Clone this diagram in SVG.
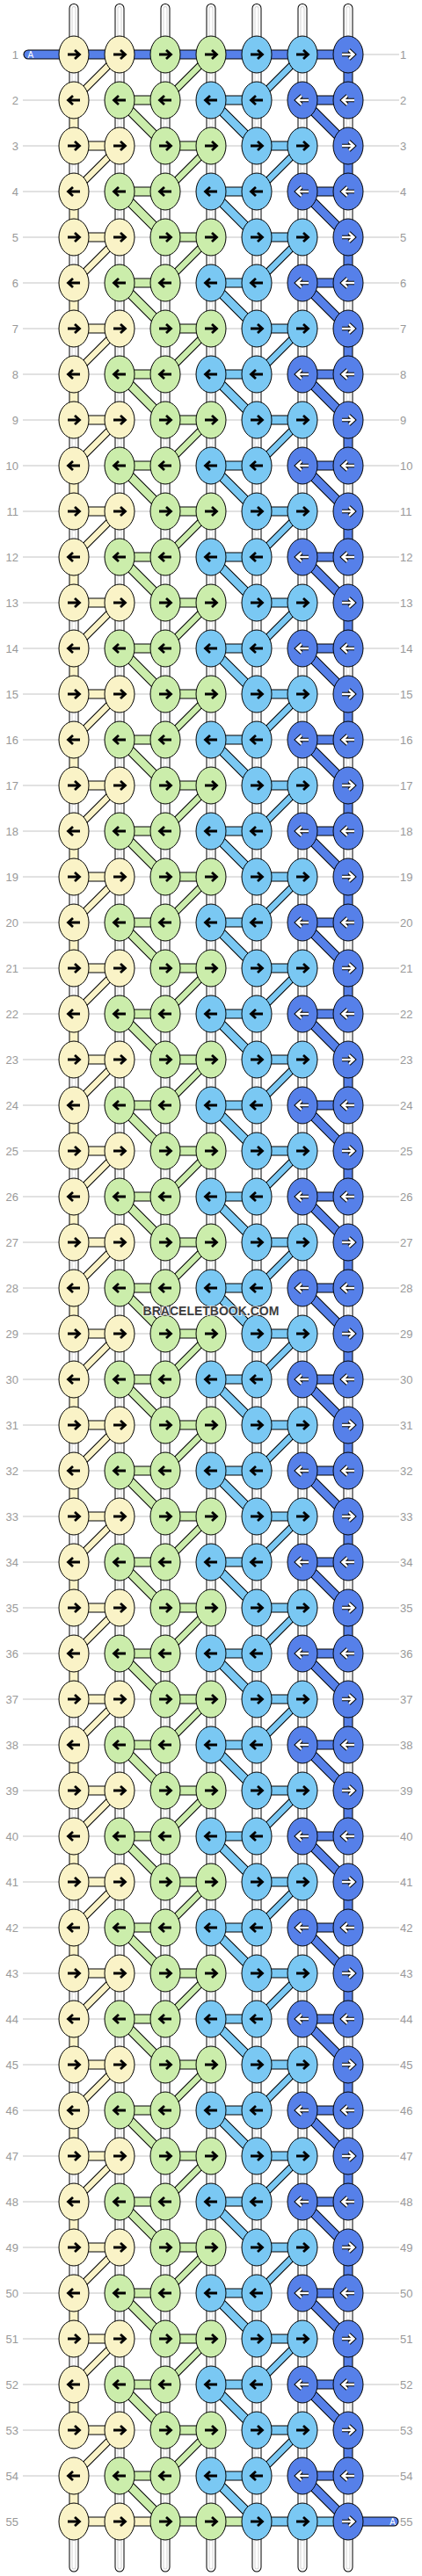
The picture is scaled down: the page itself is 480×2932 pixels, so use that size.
<svg xmlns="http://www.w3.org/2000/svg" width="480" height="2932" viewBox="0 0 480 2932">
<style>
.rl{fill:none;stroke:#c4c4c4;stroke-width:1}
.L,.R{font-family:"Liberation Sans",Arial,sans-serif;font-size:13px;fill:#999}
.L{text-anchor:end}
.k{stroke:#000;stroke-width:1}
.ab{fill:none;stroke:#000;stroke-width:2.8}
.ao{fill:none;stroke:#000;stroke-width:4.4}
.ai{fill:none;stroke:#fff;stroke-width:2.4}
.o{stroke:#000;stroke-width:11}
.on{stroke:#000;stroke-width:8.5}
.a{font-family:"Liberation Sans",Arial,sans-serif;font-size:10px;fill:#fff}
</style>
<defs>
<path id="aR" d="M-7,0H5.5M1,-5L6.5,0L1,5"/>
<path id="aL" d="M7,0H-5.5M-1,-5L-6.5,0L-1,5"/>
<g id="yR"><ellipse class="k" fill="#FAF3C7" rx="17" ry="21"/><use href="#aR" class="ab"/></g>
<g id="yL"><ellipse class="k" fill="#FAF3C7" rx="17" ry="21"/><use href="#aL" class="ab"/></g>
<g id="gR"><ellipse class="k" fill="#CBEDAB" rx="17" ry="21"/><use href="#aR" class="ab"/></g>
<g id="gL"><ellipse class="k" fill="#CBEDAB" rx="17" ry="21"/><use href="#aL" class="ab"/></g>
<g id="lR"><ellipse class="k" fill="#7AC8F3" rx="17" ry="21"/><use href="#aR" class="ab"/></g>
<g id="lL"><ellipse class="k" fill="#7AC8F3" rx="17" ry="21"/><use href="#aL" class="ab"/></g>
<g id="dR"><ellipse class="k" fill="#5680E9" rx="17" ry="21"/><use href="#aR" class="ao"/><use href="#aR" class="ai"/></g>
<g id="dL"><ellipse class="k" fill="#5680E9" rx="17" ry="21"/><use href="#aL" class="ao"/><use href="#aL" class="ai"/></g>
<path id="pW" d="M136,9.5V2922M188,9.5V2922M240,9.5V2922M292,9.5V2922M344,9.5V2922
M84,9.5V114 m0,52v52 m0,52v52 m0,52v52 m0,52v52 m0,52v52 m0,52v52 m0,52v52 m0,52v52 m0,52v52 m0,52v52 m0,52v52 m0,52v52 m0,52v52
m0,52v52 m0,52v52 m0,52v52 m0,52v52 m0,52v52 m0,52v52 m0,52v52 m0,52v52 m0,52v52 m0,52v52 m0,52v52 m0,52v52 M84,2870V2922
M396,9.5V62 m0,52v52 m0,52v52 m0,52v52 m0,52v52 m0,52v52 m0,52v52 m0,52v52 m0,52v52 m0,52v52 m0,52v52 m0,52v52 m0,52v52 m0,52v52 m0,52v52
m0,52v52 m0,52v52 m0,52v52 m0,52v52 m0,52v52 m0,52v52 m0,52v52 m0,52v52 m0,52v52 m0,52v52 m0,52v52 m0,52v52 m0,52v52 v52"/>
<path id="pY" d="M84,114V166
h52m-52,52v52 h52m-52,52v52 h52m-52,52v52 h52m-52,52v52 h52m-52,52v52 h52m-52,52v52 h52m-52,52v52 h52m-52,52v52 h52m-52,52v52 h52m-52,52v52 h52m-52,52v52 h52m-52,52v52 h52m-52,52v52
h52m-52,52v52 h52m-52,52v52 h52m-52,52v52 h52m-52,52v52 h52m-52,52v52 h52m-52,52v52 h52m-52,52v52 h52m-52,52v52 h52m-52,52v52 h52m-52,52v52 h52m-52,52v52 h52m-52,52v52 h52m-52,52v52
h104"/>
<path id="dY" d="M136,62l-52,52
m52,52l-52,52 m52,52l-52,52 m52,52l-52,52 m52,52l-52,52 m52,52l-52,52 m52,52l-52,52 m52,52l-52,52 m52,52l-52,52 m52,52l-52,52 m52,52l-52,52 m52,52l-52,52 m52,52l-52,52 m52,52l-52,52
m52,52l-52,52 m52,52l-52,52 m52,52l-52,52 m52,52l-52,52 m52,52l-52,52 m52,52l-52,52 m52,52l-52,52 m52,52l-52,52 m52,52l-52,52 m52,52l-52,52 m52,52l-52,52 m52,52l-52,52 m52,52l-52,52"/>
<path id="pG" d="M188,114h-52l52,52h52
m-52,52h-52l52,52h52 m-52,52h-52l52,52h52 m-52,52h-52l52,52h52 m-52,52h-52l52,52h52 m-52,52h-52l52,52h52 m-52,52h-52l52,52h52 m-52,52h-52l52,52h52 m-52,52h-52l52,52h52 m-52,52h-52l52,52h52 m-52,52h-52l52,52h52 m-52,52h-52l52,52h52 m-52,52h-52l52,52h52 m-52,52h-52l52,52h52
m-52,52h-52l52,52h52 m-52,52h-52l52,52h52 m-52,52h-52l52,52h52 m-52,52h-52l52,52h52 m-52,52h-52l52,52h52 m-52,52h-52l52,52h52 m-52,52h-52l52,52h52 m-52,52h-52l52,52h52 m-52,52h-52l52,52h52 m-52,52h-52l52,52h52 m-52,52h-52l52,52h52 m-52,52h-52l52,52h52 m-52,52h-52l52,52h52
h52"/>
<path id="dG" d="M240,62l-52,52
m52,52l-52,52 m52,52l-52,52 m52,52l-52,52 m52,52l-52,52 m52,52l-52,52 m52,52l-52,52 m52,52l-52,52 m52,52l-52,52 m52,52l-52,52 m52,52l-52,52 m52,52l-52,52 m52,52l-52,52 m52,52l-52,52
m52,52l-52,52 m52,52l-52,52 m52,52l-52,52 m52,52l-52,52 m52,52l-52,52 m52,52l-52,52 m52,52l-52,52 m52,52l-52,52 m52,52l-52,52 m52,52l-52,52 m52,52l-52,52 m52,52l-52,52 m52,52l-52,52"/>
<path id="pL" d="M292,114h-52l52,52h52
m-52,52h-52l52,52h52 m-52,52h-52l52,52h52 m-52,52h-52l52,52h52 m-52,52h-52l52,52h52 m-52,52h-52l52,52h52 m-52,52h-52l52,52h52 m-52,52h-52l52,52h52 m-52,52h-52l52,52h52 m-52,52h-52l52,52h52 m-52,52h-52l52,52h52 m-52,52h-52l52,52h52 m-52,52h-52l52,52h52 m-52,52h-52l52,52h52
m-52,52h-52l52,52h52 m-52,52h-52l52,52h52 m-52,52h-52l52,52h52 m-52,52h-52l52,52h52 m-52,52h-52l52,52h52 m-52,52h-52l52,52h52 m-52,52h-52l52,52h52 m-52,52h-52l52,52h52 m-52,52h-52l52,52h52 m-52,52h-52l52,52h52 m-52,52h-52l52,52h52 m-52,52h-52l52,52h52 m-52,52h-52l52,52h52
h52"/>
<path id="dL2" d="M344,62l-52,52
m52,52l-52,52 m52,52l-52,52 m52,52l-52,52 m52,52l-52,52 m52,52l-52,52 m52,52l-52,52 m52,52l-52,52 m52,52l-52,52 m52,52l-52,52 m52,52l-52,52 m52,52l-52,52 m52,52l-52,52 m52,52l-52,52
m52,52l-52,52 m52,52l-52,52 m52,52l-52,52 m52,52l-52,52 m52,52l-52,52 m52,52l-52,52 m52,52l-52,52 m52,52l-52,52 m52,52l-52,52 m52,52l-52,52 m52,52l-52,52 m52,52l-52,52 m52,52l-52,52"/>
<path id="pD" d="M32,62H396
v52h-52l52,52 v52h-52l52,52 v52h-52l52,52 v52h-52l52,52 v52h-52l52,52 v52h-52l52,52 v52h-52l52,52 v52h-52l52,52 v52h-52l52,52
v52h-52l52,52 v52h-52l52,52 v52h-52l52,52 v52h-52l52,52 v52h-52l52,52 v52h-52l52,52 v52h-52l52,52 v52h-52l52,52 v52h-52l52,52
v52h-52l52,52 v52h-52l52,52 v52h-52l52,52 v52h-52l52,52 v52h-52l52,52 v52h-52l52,52 v52h-52l52,52 v52h-52l52,52 v52h-52l52,52
H448"/>
</defs>
<rect width="480" height="2932" fill="#fff"/>
<path class="rl" d="M26,62H454 m-428,52h428 m-428,52h428 m-428,52h428 m-428,52h428 m-428,52h428 m-428,52h428 m-428,52h428 m-428,52h428 m-428,52h428 m-428,52h428 m-428,52h428 m-428,52h428 m-428,52h428 m-428,52h428 m-428,52h428 m-428,52h428 m-428,52h428
m-428,52h428 m-428,52h428 m-428,52h428 m-428,52h428 m-428,52h428 m-428,52h428 m-428,52h428 m-428,52h428 m-428,52h428 m-428,52h428 m-428,52h428 m-428,52h428 m-428,52h428 m-428,52h428 m-428,52h428 m-428,52h428 m-428,52h428 m-428,52h428
m-428,52h428 m-428,52h428 m-428,52h428 m-428,52h428 m-428,52h428 m-428,52h428 m-428,52h428 m-428,52h428 m-428,52h428 m-428,52h428 m-428,52h428 m-428,52h428 m-428,52h428 m-428,52h428 m-428,52h428 m-428,52h428 m-428,52h428 m-428,52h428"/>
<g id="labels">
<text class="L" x="21" y="66.5">1</text><text class="R" x="455" y="66.5">1</text>
<text class="L" x="21" y="118.5">2</text><text class="R" x="455" y="118.5">2</text>
<text class="L" x="21" y="170.5">3</text><text class="R" x="455" y="170.5">3</text>
<text class="L" x="21" y="222.5">4</text><text class="R" x="455" y="222.5">4</text>
<text class="L" x="21" y="274.5">5</text><text class="R" x="455" y="274.5">5</text>
<text class="L" x="21" y="326.5">6</text><text class="R" x="455" y="326.5">6</text>
<text class="L" x="21" y="378.5">7</text><text class="R" x="455" y="378.5">7</text>
<text class="L" x="21" y="430.5">8</text><text class="R" x="455" y="430.5">8</text>
<text class="L" x="21" y="482.5">9</text><text class="R" x="455" y="482.5">9</text>
<text class="L" x="21" y="534.5">10</text><text class="R" x="455" y="534.5">10</text>
<text class="L" x="21" y="586.5">11</text><text class="R" x="455" y="586.5">11</text>
<text class="L" x="21" y="638.5">12</text><text class="R" x="455" y="638.5">12</text>
<text class="L" x="21" y="690.5">13</text><text class="R" x="455" y="690.5">13</text>
<text class="L" x="21" y="742.5">14</text><text class="R" x="455" y="742.5">14</text>
<text class="L" x="21" y="794.5">15</text><text class="R" x="455" y="794.5">15</text>
<text class="L" x="21" y="846.5">16</text><text class="R" x="455" y="846.5">16</text>
<text class="L" x="21" y="898.5">17</text><text class="R" x="455" y="898.5">17</text>
<text class="L" x="21" y="950.5">18</text><text class="R" x="455" y="950.5">18</text>
<text class="L" x="21" y="1002.5">19</text><text class="R" x="455" y="1002.5">19</text>
<text class="L" x="21" y="1054.5">20</text><text class="R" x="455" y="1054.5">20</text>
<text class="L" x="21" y="1106.5">21</text><text class="R" x="455" y="1106.5">21</text>
<text class="L" x="21" y="1158.5">22</text><text class="R" x="455" y="1158.5">22</text>
<text class="L" x="21" y="1210.5">23</text><text class="R" x="455" y="1210.5">23</text>
<text class="L" x="21" y="1262.5">24</text><text class="R" x="455" y="1262.5">24</text>
<text class="L" x="21" y="1314.5">25</text><text class="R" x="455" y="1314.5">25</text>
<text class="L" x="21" y="1366.5">26</text><text class="R" x="455" y="1366.5">26</text>
<text class="L" x="21" y="1418.5">27</text><text class="R" x="455" y="1418.5">27</text>
<text class="L" x="21" y="1470.5">28</text><text class="R" x="455" y="1470.5">28</text>
<text class="L" x="21" y="1522.5">29</text><text class="R" x="455" y="1522.5">29</text>
<text class="L" x="21" y="1574.5">30</text><text class="R" x="455" y="1574.5">30</text>
<text class="L" x="21" y="1626.5">31</text><text class="R" x="455" y="1626.5">31</text>
<text class="L" x="21" y="1678.5">32</text><text class="R" x="455" y="1678.5">32</text>
<text class="L" x="21" y="1730.5">33</text><text class="R" x="455" y="1730.5">33</text>
<text class="L" x="21" y="1782.5">34</text><text class="R" x="455" y="1782.5">34</text>
<text class="L" x="21" y="1834.5">35</text><text class="R" x="455" y="1834.5">35</text>
<text class="L" x="21" y="1886.5">36</text><text class="R" x="455" y="1886.5">36</text>
<text class="L" x="21" y="1938.5">37</text><text class="R" x="455" y="1938.5">37</text>
<text class="L" x="21" y="1990.5">38</text><text class="R" x="455" y="1990.5">38</text>
<text class="L" x="21" y="2042.5">39</text><text class="R" x="455" y="2042.5">39</text>
<text class="L" x="21" y="2094.5">40</text><text class="R" x="455" y="2094.5">40</text>
<text class="L" x="21" y="2146.5">41</text><text class="R" x="455" y="2146.5">41</text>
<text class="L" x="21" y="2198.5">42</text><text class="R" x="455" y="2198.5">42</text>
<text class="L" x="21" y="2250.5">43</text><text class="R" x="455" y="2250.5">43</text>
<text class="L" x="21" y="2302.5">44</text><text class="R" x="455" y="2302.5">44</text>
<text class="L" x="21" y="2354.5">45</text><text class="R" x="455" y="2354.5">45</text>
<text class="L" x="21" y="2406.5">46</text><text class="R" x="455" y="2406.5">46</text>
<text class="L" x="21" y="2458.5">47</text><text class="R" x="455" y="2458.5">47</text>
<text class="L" x="21" y="2510.5">48</text><text class="R" x="455" y="2510.5">48</text>
<text class="L" x="21" y="2562.5">49</text><text class="R" x="455" y="2562.5">49</text>
<text class="L" x="21" y="2614.5">50</text><text class="R" x="455" y="2614.5">50</text>
<text class="L" x="21" y="2666.5">51</text><text class="R" x="455" y="2666.5">51</text>
<text class="L" x="21" y="2718.5">52</text><text class="R" x="455" y="2718.5">52</text>
<text class="L" x="21" y="2770.5">53</text><text class="R" x="455" y="2770.5">53</text>
<text class="L" x="21" y="2822.5">54</text><text class="R" x="455" y="2822.5">54</text>
<text class="L" x="21" y="2874.5">55</text><text class="R" x="455" y="2874.5">55</text>
</g>
<g id="connectors" fill="none" stroke-linecap="round" stroke-linejoin="round">
<use href="#pW" class="o"/><use href="#pY" class="o"/><use href="#pG" class="o"/><use href="#pL" class="o"/><use href="#pD" class="o"/>
<use href="#dY" class="on"/><use href="#dG" class="on"/><use href="#dL2" class="on"/>
<use href="#pW" stroke="#fff" stroke-width="9"/>
<use href="#pW" stroke="#d4d4d4" stroke-width="5"/>
<use href="#pW" stroke="#fff" stroke-width="3"/>
<use href="#pY" stroke="#FAF3C7" stroke-width="9"/>
<use href="#dY" stroke="#FAF3C7" stroke-width="6.5"/>
<use href="#pG" stroke="#CBEDAB" stroke-width="9"/>
<use href="#dG" stroke="#CBEDAB" stroke-width="6.5"/>
<use href="#pL" stroke="#7AC8F3" stroke-width="9"/>
<use href="#dL2" stroke="#7AC8F3" stroke-width="6.5"/>
<use href="#pD" stroke="#5680E9" stroke-width="9"/>
<text class="a" x="31.5" y="65.6">A</text>
<text class="a" x="450" y="2873.6" text-anchor="end">A</text>
</g>
<g id="knots">
<g transform="translate(0,62)"><g id="n1_1"><use href="#yR" x="84"/></g><g id="n1_2"><use href="#yR" x="136"/></g><g id="n1_3"><use href="#gR" x="188"/></g><g id="n1_4"><use href="#gR" x="240"/></g><g id="n1_5"><use href="#lR" x="292"/></g><g id="n1_6"><use href="#lR" x="344"/></g><g id="n1_7"><use href="#dR" x="396"/></g></g>
<g transform="translate(0,114)"><g id="n2_1"><use href="#yL" x="84"/></g><g id="n2_2"><use href="#gL" x="136"/></g><g id="n2_3"><use href="#gL" x="188"/></g><g id="n2_4"><use href="#lL" x="240"/></g><g id="n2_5"><use href="#lL" x="292"/></g><g id="n2_6"><use href="#dL" x="344"/></g><g id="n2_7"><use href="#dL" x="396"/></g></g>
<g transform="translate(0,166)"><g id="n3_1"><use href="#yR" x="84"/></g><g id="n3_2"><use href="#yR" x="136"/></g><g id="n3_3"><use href="#gR" x="188"/></g><g id="n3_4"><use href="#gR" x="240"/></g><g id="n3_5"><use href="#lR" x="292"/></g><g id="n3_6"><use href="#lR" x="344"/></g><g id="n3_7"><use href="#dR" x="396"/></g></g>
<g transform="translate(0,218)"><g id="n4_1"><use href="#yL" x="84"/></g><g id="n4_2"><use href="#gL" x="136"/></g><g id="n4_3"><use href="#gL" x="188"/></g><g id="n4_4"><use href="#lL" x="240"/></g><g id="n4_5"><use href="#lL" x="292"/></g><g id="n4_6"><use href="#dL" x="344"/></g><g id="n4_7"><use href="#dL" x="396"/></g></g>
<g transform="translate(0,270)"><g id="n5_1"><use href="#yR" x="84"/></g><g id="n5_2"><use href="#yR" x="136"/></g><g id="n5_3"><use href="#gR" x="188"/></g><g id="n5_4"><use href="#gR" x="240"/></g><g id="n5_5"><use href="#lR" x="292"/></g><g id="n5_6"><use href="#lR" x="344"/></g><g id="n5_7"><use href="#dR" x="396"/></g></g>
<g transform="translate(0,322)"><g id="n6_1"><use href="#yL" x="84"/></g><g id="n6_2"><use href="#gL" x="136"/></g><g id="n6_3"><use href="#gL" x="188"/></g><g id="n6_4"><use href="#lL" x="240"/></g><g id="n6_5"><use href="#lL" x="292"/></g><g id="n6_6"><use href="#dL" x="344"/></g><g id="n6_7"><use href="#dL" x="396"/></g></g>
<g transform="translate(0,374)"><g id="n7_1"><use href="#yR" x="84"/></g><g id="n7_2"><use href="#yR" x="136"/></g><g id="n7_3"><use href="#gR" x="188"/></g><g id="n7_4"><use href="#gR" x="240"/></g><g id="n7_5"><use href="#lR" x="292"/></g><g id="n7_6"><use href="#lR" x="344"/></g><g id="n7_7"><use href="#dR" x="396"/></g></g>
<g transform="translate(0,426)"><g id="n8_1"><use href="#yL" x="84"/></g><g id="n8_2"><use href="#gL" x="136"/></g><g id="n8_3"><use href="#gL" x="188"/></g><g id="n8_4"><use href="#lL" x="240"/></g><g id="n8_5"><use href="#lL" x="292"/></g><g id="n8_6"><use href="#dL" x="344"/></g><g id="n8_7"><use href="#dL" x="396"/></g></g>
<g transform="translate(0,478)"><g id="n9_1"><use href="#yR" x="84"/></g><g id="n9_2"><use href="#yR" x="136"/></g><g id="n9_3"><use href="#gR" x="188"/></g><g id="n9_4"><use href="#gR" x="240"/></g><g id="n9_5"><use href="#lR" x="292"/></g><g id="n9_6"><use href="#lR" x="344"/></g><g id="n9_7"><use href="#dR" x="396"/></g></g>
<g transform="translate(0,530)"><g id="n10_1"><use href="#yL" x="84"/></g><g id="n10_2"><use href="#gL" x="136"/></g><g id="n10_3"><use href="#gL" x="188"/></g><g id="n10_4"><use href="#lL" x="240"/></g><g id="n10_5"><use href="#lL" x="292"/></g><g id="n10_6"><use href="#dL" x="344"/></g><g id="n10_7"><use href="#dL" x="396"/></g></g>
<g transform="translate(0,582)"><g id="n11_1"><use href="#yR" x="84"/></g><g id="n11_2"><use href="#yR" x="136"/></g><g id="n11_3"><use href="#gR" x="188"/></g><g id="n11_4"><use href="#gR" x="240"/></g><g id="n11_5"><use href="#lR" x="292"/></g><g id="n11_6"><use href="#lR" x="344"/></g><g id="n11_7"><use href="#dR" x="396"/></g></g>
<g transform="translate(0,634)"><g id="n12_1"><use href="#yL" x="84"/></g><g id="n12_2"><use href="#gL" x="136"/></g><g id="n12_3"><use href="#gL" x="188"/></g><g id="n12_4"><use href="#lL" x="240"/></g><g id="n12_5"><use href="#lL" x="292"/></g><g id="n12_6"><use href="#dL" x="344"/></g><g id="n12_7"><use href="#dL" x="396"/></g></g>
<g transform="translate(0,686)"><g id="n13_1"><use href="#yR" x="84"/></g><g id="n13_2"><use href="#yR" x="136"/></g><g id="n13_3"><use href="#gR" x="188"/></g><g id="n13_4"><use href="#gR" x="240"/></g><g id="n13_5"><use href="#lR" x="292"/></g><g id="n13_6"><use href="#lR" x="344"/></g><g id="n13_7"><use href="#dR" x="396"/></g></g>
<g transform="translate(0,738)"><g id="n14_1"><use href="#yL" x="84"/></g><g id="n14_2"><use href="#gL" x="136"/></g><g id="n14_3"><use href="#gL" x="188"/></g><g id="n14_4"><use href="#lL" x="240"/></g><g id="n14_5"><use href="#lL" x="292"/></g><g id="n14_6"><use href="#dL" x="344"/></g><g id="n14_7"><use href="#dL" x="396"/></g></g>
<g transform="translate(0,790)"><g id="n15_1"><use href="#yR" x="84"/></g><g id="n15_2"><use href="#yR" x="136"/></g><g id="n15_3"><use href="#gR" x="188"/></g><g id="n15_4"><use href="#gR" x="240"/></g><g id="n15_5"><use href="#lR" x="292"/></g><g id="n15_6"><use href="#lR" x="344"/></g><g id="n15_7"><use href="#dR" x="396"/></g></g>
<g transform="translate(0,842)"><g id="n16_1"><use href="#yL" x="84"/></g><g id="n16_2"><use href="#gL" x="136"/></g><g id="n16_3"><use href="#gL" x="188"/></g><g id="n16_4"><use href="#lL" x="240"/></g><g id="n16_5"><use href="#lL" x="292"/></g><g id="n16_6"><use href="#dL" x="344"/></g><g id="n16_7"><use href="#dL" x="396"/></g></g>
<g transform="translate(0,894)"><g id="n17_1"><use href="#yR" x="84"/></g><g id="n17_2"><use href="#yR" x="136"/></g><g id="n17_3"><use href="#gR" x="188"/></g><g id="n17_4"><use href="#gR" x="240"/></g><g id="n17_5"><use href="#lR" x="292"/></g><g id="n17_6"><use href="#lR" x="344"/></g><g id="n17_7"><use href="#dR" x="396"/></g></g>
<g transform="translate(0,946)"><g id="n18_1"><use href="#yL" x="84"/></g><g id="n18_2"><use href="#gL" x="136"/></g><g id="n18_3"><use href="#gL" x="188"/></g><g id="n18_4"><use href="#lL" x="240"/></g><g id="n18_5"><use href="#lL" x="292"/></g><g id="n18_6"><use href="#dL" x="344"/></g><g id="n18_7"><use href="#dL" x="396"/></g></g>
<g transform="translate(0,998)"><g id="n19_1"><use href="#yR" x="84"/></g><g id="n19_2"><use href="#yR" x="136"/></g><g id="n19_3"><use href="#gR" x="188"/></g><g id="n19_4"><use href="#gR" x="240"/></g><g id="n19_5"><use href="#lR" x="292"/></g><g id="n19_6"><use href="#lR" x="344"/></g><g id="n19_7"><use href="#dR" x="396"/></g></g>
<g transform="translate(0,1050)"><g id="n20_1"><use href="#yL" x="84"/></g><g id="n20_2"><use href="#gL" x="136"/></g><g id="n20_3"><use href="#gL" x="188"/></g><g id="n20_4"><use href="#lL" x="240"/></g><g id="n20_5"><use href="#lL" x="292"/></g><g id="n20_6"><use href="#dL" x="344"/></g><g id="n20_7"><use href="#dL" x="396"/></g></g>
<g transform="translate(0,1102)"><g id="n21_1"><use href="#yR" x="84"/></g><g id="n21_2"><use href="#yR" x="136"/></g><g id="n21_3"><use href="#gR" x="188"/></g><g id="n21_4"><use href="#gR" x="240"/></g><g id="n21_5"><use href="#lR" x="292"/></g><g id="n21_6"><use href="#lR" x="344"/></g><g id="n21_7"><use href="#dR" x="396"/></g></g>
<g transform="translate(0,1154)"><g id="n22_1"><use href="#yL" x="84"/></g><g id="n22_2"><use href="#gL" x="136"/></g><g id="n22_3"><use href="#gL" x="188"/></g><g id="n22_4"><use href="#lL" x="240"/></g><g id="n22_5"><use href="#lL" x="292"/></g><g id="n22_6"><use href="#dL" x="344"/></g><g id="n22_7"><use href="#dL" x="396"/></g></g>
<g transform="translate(0,1206)"><g id="n23_1"><use href="#yR" x="84"/></g><g id="n23_2"><use href="#yR" x="136"/></g><g id="n23_3"><use href="#gR" x="188"/></g><g id="n23_4"><use href="#gR" x="240"/></g><g id="n23_5"><use href="#lR" x="292"/></g><g id="n23_6"><use href="#lR" x="344"/></g><g id="n23_7"><use href="#dR" x="396"/></g></g>
<g transform="translate(0,1258)"><g id="n24_1"><use href="#yL" x="84"/></g><g id="n24_2"><use href="#gL" x="136"/></g><g id="n24_3"><use href="#gL" x="188"/></g><g id="n24_4"><use href="#lL" x="240"/></g><g id="n24_5"><use href="#lL" x="292"/></g><g id="n24_6"><use href="#dL" x="344"/></g><g id="n24_7"><use href="#dL" x="396"/></g></g>
<g transform="translate(0,1310)"><g id="n25_1"><use href="#yR" x="84"/></g><g id="n25_2"><use href="#yR" x="136"/></g><g id="n25_3"><use href="#gR" x="188"/></g><g id="n25_4"><use href="#gR" x="240"/></g><g id="n25_5"><use href="#lR" x="292"/></g><g id="n25_6"><use href="#lR" x="344"/></g><g id="n25_7"><use href="#dR" x="396"/></g></g>
<g transform="translate(0,1362)"><g id="n26_1"><use href="#yL" x="84"/></g><g id="n26_2"><use href="#gL" x="136"/></g><g id="n26_3"><use href="#gL" x="188"/></g><g id="n26_4"><use href="#lL" x="240"/></g><g id="n26_5"><use href="#lL" x="292"/></g><g id="n26_6"><use href="#dL" x="344"/></g><g id="n26_7"><use href="#dL" x="396"/></g></g>
<g transform="translate(0,1414)"><g id="n27_1"><use href="#yR" x="84"/></g><g id="n27_2"><use href="#yR" x="136"/></g><g id="n27_3"><use href="#gR" x="188"/></g><g id="n27_4"><use href="#gR" x="240"/></g><g id="n27_5"><use href="#lR" x="292"/></g><g id="n27_6"><use href="#lR" x="344"/></g><g id="n27_7"><use href="#dR" x="396"/></g></g>
<g transform="translate(0,1466)"><g id="n28_1"><use href="#yL" x="84"/></g><g id="n28_2"><use href="#gL" x="136"/></g><g id="n28_3"><use href="#gL" x="188"/></g><g id="n28_4"><use href="#lL" x="240"/></g><g id="n28_5"><use href="#lL" x="292"/></g><g id="n28_6"><use href="#dL" x="344"/></g><g id="n28_7"><use href="#dL" x="396"/></g></g>
<g transform="translate(0,1518)"><g id="n29_1"><use href="#yR" x="84"/></g><g id="n29_2"><use href="#yR" x="136"/></g><g id="n29_3"><use href="#gR" x="188"/></g><g id="n29_4"><use href="#gR" x="240"/></g><g id="n29_5"><use href="#lR" x="292"/></g><g id="n29_6"><use href="#lR" x="344"/></g><g id="n29_7"><use href="#dR" x="396"/></g></g>
<g transform="translate(0,1570)"><g id="n30_1"><use href="#yL" x="84"/></g><g id="n30_2"><use href="#gL" x="136"/></g><g id="n30_3"><use href="#gL" x="188"/></g><g id="n30_4"><use href="#lL" x="240"/></g><g id="n30_5"><use href="#lL" x="292"/></g><g id="n30_6"><use href="#dL" x="344"/></g><g id="n30_7"><use href="#dL" x="396"/></g></g>
<g transform="translate(0,1622)"><g id="n31_1"><use href="#yR" x="84"/></g><g id="n31_2"><use href="#yR" x="136"/></g><g id="n31_3"><use href="#gR" x="188"/></g><g id="n31_4"><use href="#gR" x="240"/></g><g id="n31_5"><use href="#lR" x="292"/></g><g id="n31_6"><use href="#lR" x="344"/></g><g id="n31_7"><use href="#dR" x="396"/></g></g>
<g transform="translate(0,1674)"><g id="n32_1"><use href="#yL" x="84"/></g><g id="n32_2"><use href="#gL" x="136"/></g><g id="n32_3"><use href="#gL" x="188"/></g><g id="n32_4"><use href="#lL" x="240"/></g><g id="n32_5"><use href="#lL" x="292"/></g><g id="n32_6"><use href="#dL" x="344"/></g><g id="n32_7"><use href="#dL" x="396"/></g></g>
<g transform="translate(0,1726)"><g id="n33_1"><use href="#yR" x="84"/></g><g id="n33_2"><use href="#yR" x="136"/></g><g id="n33_3"><use href="#gR" x="188"/></g><g id="n33_4"><use href="#gR" x="240"/></g><g id="n33_5"><use href="#lR" x="292"/></g><g id="n33_6"><use href="#lR" x="344"/></g><g id="n33_7"><use href="#dR" x="396"/></g></g>
<g transform="translate(0,1778)"><g id="n34_1"><use href="#yL" x="84"/></g><g id="n34_2"><use href="#gL" x="136"/></g><g id="n34_3"><use href="#gL" x="188"/></g><g id="n34_4"><use href="#lL" x="240"/></g><g id="n34_5"><use href="#lL" x="292"/></g><g id="n34_6"><use href="#dL" x="344"/></g><g id="n34_7"><use href="#dL" x="396"/></g></g>
<g transform="translate(0,1830)"><g id="n35_1"><use href="#yR" x="84"/></g><g id="n35_2"><use href="#yR" x="136"/></g><g id="n35_3"><use href="#gR" x="188"/></g><g id="n35_4"><use href="#gR" x="240"/></g><g id="n35_5"><use href="#lR" x="292"/></g><g id="n35_6"><use href="#lR" x="344"/></g><g id="n35_7"><use href="#dR" x="396"/></g></g>
<g transform="translate(0,1882)"><g id="n36_1"><use href="#yL" x="84"/></g><g id="n36_2"><use href="#gL" x="136"/></g><g id="n36_3"><use href="#gL" x="188"/></g><g id="n36_4"><use href="#lL" x="240"/></g><g id="n36_5"><use href="#lL" x="292"/></g><g id="n36_6"><use href="#dL" x="344"/></g><g id="n36_7"><use href="#dL" x="396"/></g></g>
<g transform="translate(0,1934)"><g id="n37_1"><use href="#yR" x="84"/></g><g id="n37_2"><use href="#yR" x="136"/></g><g id="n37_3"><use href="#gR" x="188"/></g><g id="n37_4"><use href="#gR" x="240"/></g><g id="n37_5"><use href="#lR" x="292"/></g><g id="n37_6"><use href="#lR" x="344"/></g><g id="n37_7"><use href="#dR" x="396"/></g></g>
<g transform="translate(0,1986)"><g id="n38_1"><use href="#yL" x="84"/></g><g id="n38_2"><use href="#gL" x="136"/></g><g id="n38_3"><use href="#gL" x="188"/></g><g id="n38_4"><use href="#lL" x="240"/></g><g id="n38_5"><use href="#lL" x="292"/></g><g id="n38_6"><use href="#dL" x="344"/></g><g id="n38_7"><use href="#dL" x="396"/></g></g>
<g transform="translate(0,2038)"><g id="n39_1"><use href="#yR" x="84"/></g><g id="n39_2"><use href="#yR" x="136"/></g><g id="n39_3"><use href="#gR" x="188"/></g><g id="n39_4"><use href="#gR" x="240"/></g><g id="n39_5"><use href="#lR" x="292"/></g><g id="n39_6"><use href="#lR" x="344"/></g><g id="n39_7"><use href="#dR" x="396"/></g></g>
<g transform="translate(0,2090)"><g id="n40_1"><use href="#yL" x="84"/></g><g id="n40_2"><use href="#gL" x="136"/></g><g id="n40_3"><use href="#gL" x="188"/></g><g id="n40_4"><use href="#lL" x="240"/></g><g id="n40_5"><use href="#lL" x="292"/></g><g id="n40_6"><use href="#dL" x="344"/></g><g id="n40_7"><use href="#dL" x="396"/></g></g>
<g transform="translate(0,2142)"><g id="n41_1"><use href="#yR" x="84"/></g><g id="n41_2"><use href="#yR" x="136"/></g><g id="n41_3"><use href="#gR" x="188"/></g><g id="n41_4"><use href="#gR" x="240"/></g><g id="n41_5"><use href="#lR" x="292"/></g><g id="n41_6"><use href="#lR" x="344"/></g><g id="n41_7"><use href="#dR" x="396"/></g></g>
<g transform="translate(0,2194)"><g id="n42_1"><use href="#yL" x="84"/></g><g id="n42_2"><use href="#gL" x="136"/></g><g id="n42_3"><use href="#gL" x="188"/></g><g id="n42_4"><use href="#lL" x="240"/></g><g id="n42_5"><use href="#lL" x="292"/></g><g id="n42_6"><use href="#dL" x="344"/></g><g id="n42_7"><use href="#dL" x="396"/></g></g>
<g transform="translate(0,2246)"><g id="n43_1"><use href="#yR" x="84"/></g><g id="n43_2"><use href="#yR" x="136"/></g><g id="n43_3"><use href="#gR" x="188"/></g><g id="n43_4"><use href="#gR" x="240"/></g><g id="n43_5"><use href="#lR" x="292"/></g><g id="n43_6"><use href="#lR" x="344"/></g><g id="n43_7"><use href="#dR" x="396"/></g></g>
<g transform="translate(0,2298)"><g id="n44_1"><use href="#yL" x="84"/></g><g id="n44_2"><use href="#gL" x="136"/></g><g id="n44_3"><use href="#gL" x="188"/></g><g id="n44_4"><use href="#lL" x="240"/></g><g id="n44_5"><use href="#lL" x="292"/></g><g id="n44_6"><use href="#dL" x="344"/></g><g id="n44_7"><use href="#dL" x="396"/></g></g>
<g transform="translate(0,2350)"><g id="n45_1"><use href="#yR" x="84"/></g><g id="n45_2"><use href="#yR" x="136"/></g><g id="n45_3"><use href="#gR" x="188"/></g><g id="n45_4"><use href="#gR" x="240"/></g><g id="n45_5"><use href="#lR" x="292"/></g><g id="n45_6"><use href="#lR" x="344"/></g><g id="n45_7"><use href="#dR" x="396"/></g></g>
<g transform="translate(0,2402)"><g id="n46_1"><use href="#yL" x="84"/></g><g id="n46_2"><use href="#gL" x="136"/></g><g id="n46_3"><use href="#gL" x="188"/></g><g id="n46_4"><use href="#lL" x="240"/></g><g id="n46_5"><use href="#lL" x="292"/></g><g id="n46_6"><use href="#dL" x="344"/></g><g id="n46_7"><use href="#dL" x="396"/></g></g>
<g transform="translate(0,2454)"><g id="n47_1"><use href="#yR" x="84"/></g><g id="n47_2"><use href="#yR" x="136"/></g><g id="n47_3"><use href="#gR" x="188"/></g><g id="n47_4"><use href="#gR" x="240"/></g><g id="n47_5"><use href="#lR" x="292"/></g><g id="n47_6"><use href="#lR" x="344"/></g><g id="n47_7"><use href="#dR" x="396"/></g></g>
<g transform="translate(0,2506)"><g id="n48_1"><use href="#yL" x="84"/></g><g id="n48_2"><use href="#gL" x="136"/></g><g id="n48_3"><use href="#gL" x="188"/></g><g id="n48_4"><use href="#lL" x="240"/></g><g id="n48_5"><use href="#lL" x="292"/></g><g id="n48_6"><use href="#dL" x="344"/></g><g id="n48_7"><use href="#dL" x="396"/></g></g>
<g transform="translate(0,2558)"><g id="n49_1"><use href="#yR" x="84"/></g><g id="n49_2"><use href="#yR" x="136"/></g><g id="n49_3"><use href="#gR" x="188"/></g><g id="n49_4"><use href="#gR" x="240"/></g><g id="n49_5"><use href="#lR" x="292"/></g><g id="n49_6"><use href="#lR" x="344"/></g><g id="n49_7"><use href="#dR" x="396"/></g></g>
<g transform="translate(0,2610)"><g id="n50_1"><use href="#yL" x="84"/></g><g id="n50_2"><use href="#gL" x="136"/></g><g id="n50_3"><use href="#gL" x="188"/></g><g id="n50_4"><use href="#lL" x="240"/></g><g id="n50_5"><use href="#lL" x="292"/></g><g id="n50_6"><use href="#dL" x="344"/></g><g id="n50_7"><use href="#dL" x="396"/></g></g>
<g transform="translate(0,2662)"><g id="n51_1"><use href="#yR" x="84"/></g><g id="n51_2"><use href="#yR" x="136"/></g><g id="n51_3"><use href="#gR" x="188"/></g><g id="n51_4"><use href="#gR" x="240"/></g><g id="n51_5"><use href="#lR" x="292"/></g><g id="n51_6"><use href="#lR" x="344"/></g><g id="n51_7"><use href="#dR" x="396"/></g></g>
<g transform="translate(0,2714)"><g id="n52_1"><use href="#yL" x="84"/></g><g id="n52_2"><use href="#gL" x="136"/></g><g id="n52_3"><use href="#gL" x="188"/></g><g id="n52_4"><use href="#lL" x="240"/></g><g id="n52_5"><use href="#lL" x="292"/></g><g id="n52_6"><use href="#dL" x="344"/></g><g id="n52_7"><use href="#dL" x="396"/></g></g>
<g transform="translate(0,2766)"><g id="n53_1"><use href="#yR" x="84"/></g><g id="n53_2"><use href="#yR" x="136"/></g><g id="n53_3"><use href="#gR" x="188"/></g><g id="n53_4"><use href="#gR" x="240"/></g><g id="n53_5"><use href="#lR" x="292"/></g><g id="n53_6"><use href="#lR" x="344"/></g><g id="n53_7"><use href="#dR" x="396"/></g></g>
<g transform="translate(0,2818)"><g id="n54_1"><use href="#yL" x="84"/></g><g id="n54_2"><use href="#gL" x="136"/></g><g id="n54_3"><use href="#gL" x="188"/></g><g id="n54_4"><use href="#lL" x="240"/></g><g id="n54_5"><use href="#lL" x="292"/></g><g id="n54_6"><use href="#dL" x="344"/></g><g id="n54_7"><use href="#dL" x="396"/></g></g>
<g transform="translate(0,2870)"><g id="n55_1"><use href="#yR" x="84"/></g><g id="n55_2"><use href="#yR" x="136"/></g><g id="n55_3"><use href="#gR" x="188"/></g><g id="n55_4"><use href="#gR" x="240"/></g><g id="n55_5"><use href="#lR" x="292"/></g><g id="n55_6"><use href="#lR" x="344"/></g><g id="n55_7"><use href="#dR" x="396"/></g></g>
</g>
<text x="240" y="1496.5" text-anchor="middle" font-family="'Liberation Sans',Arial,sans-serif" font-weight="bold" font-size="14" fill="#3d3d3d" stroke="#fff" stroke-opacity="0.7" stroke-width="2" paint-order="stroke">BRACELETBOOK.COM</text>
</svg>
